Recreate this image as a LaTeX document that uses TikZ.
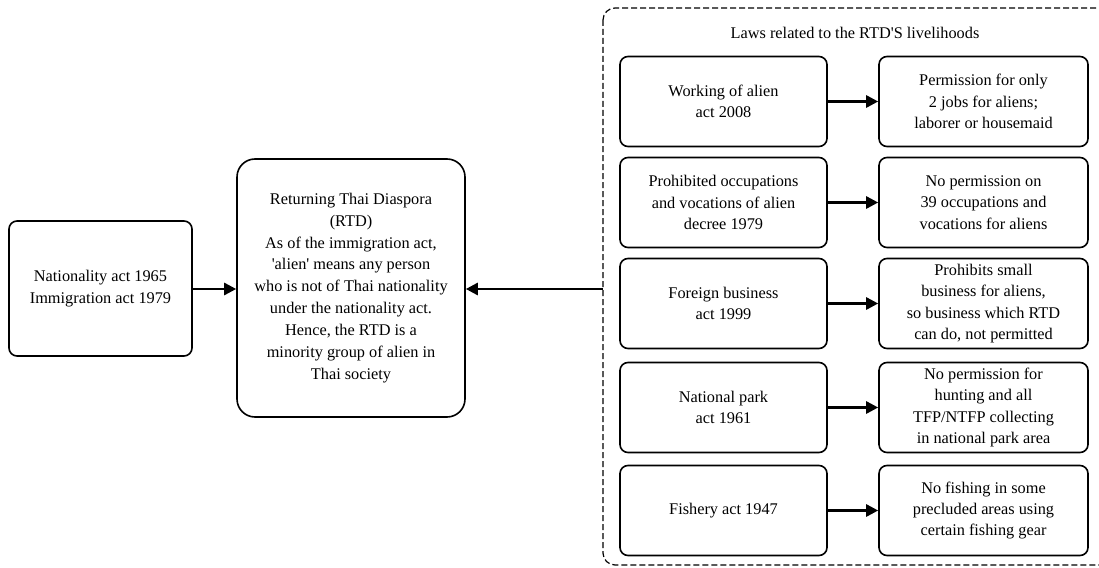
\documentclass[tikz,border=0pt]{standalone}
\usepackage{fontspec}
\setmainfont{Liberation Serif}
\usetikzlibrary{arrows.meta}
\begin{document}
\begin{tikzpicture}[x=1pt,y=-1pt,
  box/.style={draw=black,line width=1.6pt,rounded corners=8pt,align=center,
    font=\fontsize{16.3}{21.3}\selectfont,inner sep=0pt},
  lawbox/.style={box,minimum width=207pt,minimum height=90pt},
  resbox/.style={box,minimum width=209pt,minimum height=90pt},
  arr/.style={line width=2.6pt,-{Triangle[length=12pt,width=12pt]}},
  dashbox/.style={draw=black,line width=1.2pt,dash pattern=on 6pt off 3pt,rounded corners=12pt}]
\useasboundingbox (0,0) rectangle (1099,567);
\begin{scope}
\clip (0,0) rectangle (1099,567);
\draw[dashbox] (603,8) rectangle (1130,565);
\end{scope}
\node[font=\fontsize{16.3}{20}\selectfont] (title) at (855,33) {Laws related to the RTD\textquotesingle S livelihoods};
\node[box,minimum width=183pt,minimum height=135pt] (nat) at (100.5,288.5) {Nationality act 1965\\Immigration act 1979};
\node[box,rounded corners=18pt,minimum width=228pt,minimum height=258pt,font=\fontsize{16.3}{21.9}\selectfont] (rtd) at (351,288) {Returning Thai Diaspora\\(RTD)\\As of the immigration act,\\\textquotesingle alien\textquotesingle{} means any person\\who is not of Thai nationality\\under the nationality act.\\Hence, the RTD is a\\minority group of alien in\\Thai society};
\node[lawbox] (l1) at (723.5,101.5) {Working of alien\\act 2008};
\node[lawbox] (l2) at (723.5,202.5) {Prohibited occupations\\and vocations of alien\\decree 1979};
\node[lawbox] (l3) at (723.5,303.5) {Foreign business\\act 1999};
\node[lawbox] (l4) at (723.5,407.5) {National park\\act 1961};
\node[lawbox] (l5) at (723.5,510.5) {Fishery act 1947};
\node[resbox] (r1) at (983.5,101.5) {Permission for only\\2 jobs for aliens;\\laborer or housemaid};
\node[resbox] (r2) at (983.5,202.5) {No permission on\\39 occupations and\\vocations for aliens};
\node[resbox] (r3) at (983.5,303.5) {Prohibits small\\business for aliens,\\so business which RTD\\can do, not permitted};
\node[resbox] (r4) at (983.5,407.5) {No permission for\\hunting and all\\TFP/NTFP collecting\\in national park area};
\node[resbox] (r5) at (983.5,510.5) {No fishing in some\\precluded areas using\\certain fishing gear};
\coordinate (lawsw) at (603,289);
\draw[arr] (nat.east |- 0,289) -- (rtd.west |- 0,289);
\draw[arr] (lawsw) -- (rtd.east |- lawsw);
\foreach \i in {1,...,5} {\draw[arr] (l\i) -- (r\i);}
\end{tikzpicture}
\end{document}
